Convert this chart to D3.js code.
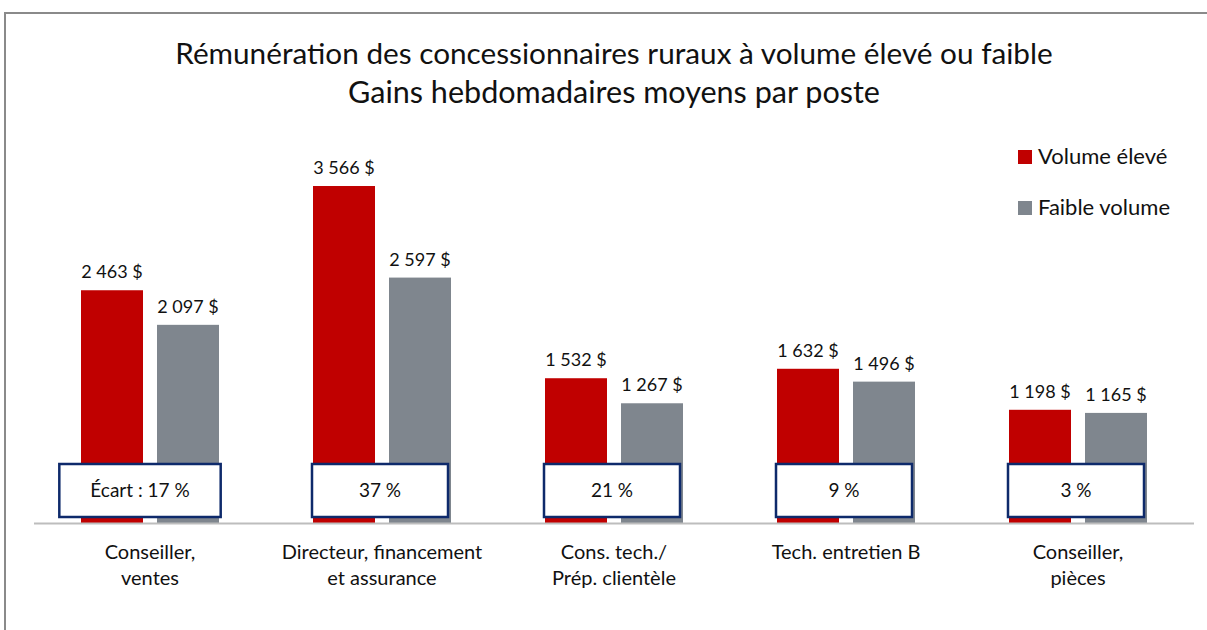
<!DOCTYPE html>
<html><head><meta charset="utf-8">
<script src="https://cdn.jsdelivr.net/npm/d3@7"></script>
<style>
html,body{margin:0;padding:0;background:#fff;}
svg{display:block;font-family:Lato,"Open Sans",sans-serif;}
</style></head>
<body>
<svg id="chart" width="1207" height="630"></svg>
<script>
const categories = [["Conseiller,","ventes"],["Directeur, financement","et assurance"],["Cons. tech./","Prép. clientèle"],["Tech. entretien B"],["Conseiller,","pièces"]];
const seriesNames = ["Volume élevé","Faible volume"];
const highVolume = [2463, 3566, 1532, 1632, 1198];
const lowVolume = [2097, 2597, 1267, 1496, 1165];
const gapLabels = ["Écart : 17 %", "37 %", "21 %", "9 %", "3 %"];
const titleLines = ["Rémunération des concessionnaires ruraux à volume élevé ou faible","Gains hebdomadaires moyens par poste"];

const colors = ["#C00000","#7F868E"];
const svg = d3.select("#chart");
const fmt = v => d3.format(",")(v).replace(/,/g, "\u202F") + " $";

// frame
svg.append("rect").attr("x",5).attr("y",13).attr("width",1250).attr("height",700)
  .attr("fill","none").attr("stroke","#8a8a8a").attr("stroke-width",2);

// title
const t = svg.append("g");
const titleTargets = [878, 532];
titleLines.forEach((s,i)=>{
  const el = t.append("text").attr("x",614).attr("y",[64,103][i]).attr("text-anchor","middle")
    .attr("font-size",27).attr("fill","#111").text(s);
  const w = el.node().getComputedTextLength();
  el.attr("font-size", 27*titleTargets[i]/w);
});

const idx = d3.range(categories.length);
const x0 = d3.scaleBand().domain(idx).range([34,1194]).paddingInner(0).paddingOuter(0);
const x1 = d3.scaleBand().domain([0,1]).range([47, 232-47]).paddingInner(14/76);
const y = d3.scaleLinear().domain([0,4000]).range([523,145]);

const series = [highVolume, lowVolume];
series.forEach((vals,s)=>{
  const g = svg.append("g");
  g.selectAll("rect").data(vals).join("rect")
    .attr("x",(d,i)=>x0(i)+x1(s)).attr("width",x1.bandwidth())
    .attr("y",d=>y(d)).attr("height",d=>y(0)-y(d)).attr("fill",colors[s]);
  g.selectAll("text").data(vals).join("text")
    .attr("x",(d,i)=>x0(i)+x1(s)+x1.bandwidth()/2).attr("y",d=>y(d)-12)
    .attr("text-anchor","middle").attr("font-size",18).attr("fill","#111").text(d=>fmt(d));
});

// axis
svg.append("line").attr("x1",34).attr("x2",1194).attr("y1",523.5).attr("y2",523.5)
  .attr("stroke","#bdbdbd").attr("stroke-width",2);

// gap boxes
const bg = svg.append("g");
idx.forEach(i=>{
  const cx = x0(i)+x0.bandwidth()/2 - (i===0?10:2);
  const txt = bg.append("text").attr("x",cx).attr("y",497).attr("text-anchor","middle")
    .attr("font-size",19).attr("fill","#111").text(gapLabels[i]);
  const tw = txt.node().getComputedTextLength();
  const bw = Math.max(136, tw+62);
  bg.insert("rect","text").attr("x",cx-bw/2).attr("y",464).attr("width",bw).attr("height",53)
    .attr("fill","#fff").attr("stroke","#0E2A6B").attr("stroke-width",2.5);
});

// category labels
idx.forEach(i=>{
  const cx = x0(i)+x0.bandwidth()/2;
  svg.append("text").attr("text-anchor","middle").attr("font-size",20).attr("fill","#111")
    .selectAll("tspan").data(categories[i]).join("tspan")
    .attr("x",cx).attr("y",(d,j)=>559+j*26).text(d=>d);
});

// legend
const lg = svg.append("g");
seriesNames.forEach((n,i)=>{
  lg.append("rect").attr("x",1018).attr("y",150+i*51).attr("width",14).attr("height",14).attr("fill",colors[i]);
  lg.append("text").attr("x",1038).attr("y",164+i*51).attr("font-size",22).attr("fill","#111").text(n);
});
</script>
</body></html>
